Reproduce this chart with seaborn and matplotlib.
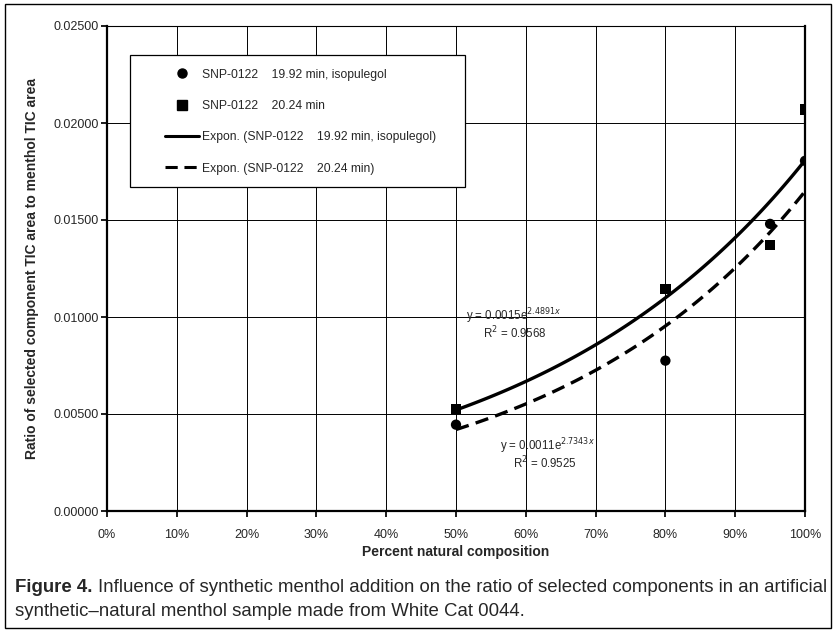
import numpy as np
import pandas as pd
import matplotlib
matplotlib.use("Agg")
import matplotlib.pyplot as plt
import seaborn as sns
from matplotlib.patches import Rectangle
from matplotlib.lines import Line2D

# ---- data ----
pct = [0.50, 0.80, 0.95, 1.00]
iso_vals = [0.00445, 0.00775, 0.01480, 0.01805]   # 19.92 min, isopulegol (circles)
min2024_vals = [0.00525, 0.01145, 0.01370, 0.02070]  # 20.24 min (squares)
fit_a = [0.0015, 0.00107]
fit_b = [2.4891, 2.7343]
eq_labels = ["y = 0.0015e$^{2.4891x}$", "y = 0.0011e$^{2.7343x}$"]
r2_labels = ["R$^2$ = 0.9568", "R$^2$ = 0.9525"]
leg_labels = ["SNP-0122    19.92 min, isopulegol",
              "SNP-0122    20.24 min",
              "Expon. (SNP-0122    19.92 min, isopulegol)",
              "Expon. (SNP-0122    20.24 min)"]
xticks = [0, 0.1, 0.2, 0.3, 0.4, 0.5, 0.6, 0.7, 0.8, 0.9, 1.0]
xticklabels = ["0%", "10%", "20%", "30%", "40%", "50%", "60%", "70%", "80%", "90%", "100%"]
yticks = [0, 0.005, 0.01, 0.015, 0.02, 0.025]
yticklabels = ["0.00000", "0.00500", "0.01000", "0.01500", "0.02000", "0.02500"]

sns.set_theme(style="white")
plt.rcParams['font.family'] = ['Liberation Sans', 'DejaVu Sans']

fig = plt.figure(figsize=(8.35, 6.32), dpi=100)
ax = fig.add_axes([107/835, 1-511/632, 698/835, 485/632])

pts = pd.DataFrame({"x": pct * 2,
                    "y": iso_vals + min2024_vals,
                    "s": [leg_labels[0]] * 4 + [leg_labels[1]] * 4})
sns.scatterplot(data=pts, x="x", y="y", style="s", markers={leg_labels[0]: "o", leg_labels[1]: "s"},
                color="black", s=55, edgecolor="black", linewidth=0, ax=ax, zorder=5, legend=False)

xx = np.linspace(0.5, 1.0, 100)
curves = pd.DataFrame({"x": np.concatenate([xx, xx]),
                       "y": np.concatenate([fit_a[0]*np.exp(fit_b[0]*xx), fit_a[1]*np.exp(fit_b[1]*xx)]),
                       "s": [leg_labels[2]] * 100 + [leg_labels[3]] * 100})
sns.lineplot(data=curves, x="x", y="y", style="s", dashes={leg_labels[2]: "", leg_labels[3]: (4, 2.2)},
             color="black", linewidth=2.4, ax=ax, legend=False, zorder=4)

ax.set_xlim(0, 1.0)
ax.set_ylim(0, 0.025)
ax.set_xticks(xticks)
ax.set_xticklabels(xticklabels, fontsize=9)
ax.set_yticks(yticks)
ax.set_yticklabels(yticklabels, fontsize=9)
ax.grid(True, color="black", linewidth=0.7)
ax.tick_params(axis="both", which="both", length=4, color="black", direction="out", left=True, bottom=True)
ax.tick_params(axis="x", pad=9)
ax.tick_params(axis="y", pad=2)
for sp in ax.spines.values():
    sp.set_color("black")
    sp.set_linewidth(0.8)
ax.spines['left'].set_linewidth(1.6)
ax.spines['bottom'].set_linewidth(1.6)
ax.spines['right'].set_linewidth(1.6)

ax.set_xlabel("Percent natural composition", fontsize=10, fontweight="bold", labelpad=3)
ax.set_ylabel("Ratio of selected component TIC area to menthol TIC area", fontsize=10, fontweight="bold", labelpad=10)

# annotations
ax.text(0.514, 0.01005, eq_labels[0], fontsize=8.3, va="center", ha="left")
ax.text(0.539, 0.00918, r2_labels[0], fontsize=8.3, va="center", ha="left")
ax.text(0.563, 0.00335, eq_labels[1], fontsize=8.3, va="center", ha="left")
ax.text(0.582, 0.00247, r2_labels[1], fontsize=8.3, va="center", ha="left")

# legend (frame drawn separately)
ax.add_patch(Rectangle((0.033, 0.668), 0.48, 0.272, transform=ax.transAxes, fill=True,
                       facecolor="white", edgecolor="black", linewidth=0.9, zorder=6))
handles = [Line2D([], [], marker="o", color="black", linestyle="none", markersize=6.5),
           Line2D([], [], marker="s", color="black", linestyle="none", markersize=6.5),
           Line2D([], [], color="black", linewidth=2.2),
           Line2D([], [], color="black", linewidth=2.2, dashes=(4, 2.2))]
leg = ax.legend(handles, leg_labels, loc="upper left", bbox_to_anchor=(0.083, 0.912),
                borderaxespad=0, fontsize=8.7, frameon=False,
                labelspacing=1.6, borderpad=0, handlelength=2.8, handletextpad=0.3)
leg.set_zorder(7)

# outer frame
fig.patches.append(Rectangle((5/835, 1-628/632), 826/835, 624/632, transform=fig.transFigure,
                             fill=False, edgecolor="black", linewidth=1.0))

# caption
cap_font = ['Liberation Sans Narrow', 'Liberation Sans', 'DejaVu Sans']
t1 = fig.text(15/835, 1-588/632, "Figure 4.", fontsize=13.4, fontweight="bold", family=cap_font, va="center")
fig.canvas.draw()
bb = t1.get_window_extent(renderer=fig.canvas.get_renderer())
x2 = (bb.x1 + 5) / fig.bbox.width
fig.text(x2, 1-588/632, "Influence of synthetic menthol addition on the ratio of selected components in an artificial",
         fontsize=13.4, family=cap_font, va="center")
fig.text(15/835, 1-612/632, "synthetic\u2013natural menthol sample made from White Cat 0044.",
         fontsize=13.4, family=cap_font, va="center")

fig.savefig("out.png", dpi=100)
